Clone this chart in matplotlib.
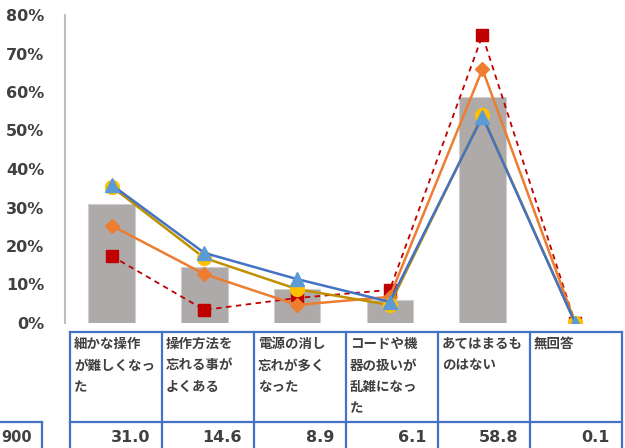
import matplotlib
matplotlib.use('Agg')
import matplotlib.pyplot as plt
from matplotlib.ticker import FuncFormatter

# categories and values
cats = ['細かな操作\nが難しくなっ\nた', '操作方法を\n忘れる事が\nよくある',
        '電源の消し\n忘れが多く\nなった', 'コードや機\n器の扱いが\n乱雑になっ\nた',
        'あてはまるも\nのはない', '無回答']
total = [31.0, 14.6, 8.9, 6.1, 58.8, 0.1]
s_blue = [35.9, 18.2, 11.4, 5.5, 53.6, 0.0]
s_yellow = [35.4, 16.9, 8.8, 4.7, 53.9, 0.0]
s_orange = [25.3, 12.7, 4.7, 6.8, 65.9, 0.0]
s_red = [17.4, 3.4, 6.5, 8.6, 74.7, 0.0]
n_label = '900'

W, H = 625, 448
fig = plt.figure(figsize=(W / 100, H / 100), dpi=100)
ax = fig.add_axes([65.3 / W, 125 / H, 556.2 / W, 308 / H])

x = list(range(len(cats)))
ax.bar(x, total, width=0.5, color='#AEAAAA', edgecolor='#D0CECE', linewidth=0.8, zorder=1)
ax.plot(x, s_red, color='#C00000', linestyle=(0, (3, 2.5)), linewidth=1.3,
        marker='s', markersize=9, markerfacecolor='#C00000', markeredgecolor='#C00000', zorder=2)
ax.plot(x, s_orange, color='#ED7D31', linewidth=1.8,
        marker='D', markersize=7, markerfacecolor='#ED7D31', markeredgecolor='#ED7D31', zorder=3)
ax.plot(x, s_yellow, color='#BF9000', linewidth=1.8,
        marker='o', markersize=10, markerfacecolor='#FFC000', markeredgecolor='#FFC000', zorder=4)
ax.plot(x, s_blue, color='#4472C4', linewidth=1.8,
        marker='^', markersize=10, markerfacecolor='#5B9BD5', markeredgecolor='#5B9BD5', zorder=5)

ax.set_xlim(-0.5, len(cats) - 0.5)
ax.set_ylim(0, 80)
ax.set_yticks(range(0, 81, 10))
ax.yaxis.set_major_formatter(FuncFormatter(lambda v, p: '%d%%' % v))
ax.tick_params(axis='y', length=0, pad=15, labelsize=11.5, labelcolor='#404040')
for lab in ax.get_yticklabels():
    lab.set_fontweight('bold')
ax.set_xticks([])
for s in ['top', 'right', 'bottom']:
    ax.spines[s].set_visible(False)
ax.spines['left'].set_color('#BFBFBF')
ax.spines['left'].set_linewidth(1.5)

# data table under the chart (pixel layout)
tab = fig.add_axes([0, 0, 1, 1], zorder=-1)
tab.set_xlim(0, W)
tab.set_ylim(H, 0)
tab.axis('off')
bc = '#4472C4'
left, colw = 70, 92
top, mid, bot = 332, 422, 452
right = left + colw * len(cats)
tab.plot([left, right], [top, top], color=bc, lw=1.6)
tab.plot([left, right], [mid, mid], color=bc, lw=1.6)
for i in range(len(cats) + 1):
    xc = left + colw * i
    tab.plot([xc, xc], [top, bot], color=bc, lw=1.6)
for i, c in enumerate(cats):
    tab.text(left + colw * i + 4, top + 5, c, ha='left', va='top', fontsize=9.7,
             fontweight='bold', color='#404040', linespacing=1.68,
             family=['Noto Sans CJK JP', 'DejaVu Sans'])
    tab.text(left + colw * (i + 1) - 12, 437, '%.1f' % total[i], ha='right', va='center',
             fontsize=11.5, fontweight='bold', color='#404040')
# leftmost sample-size cell (cut off by the frame)
tab.plot([-5, 42], [mid, mid], color=bc, lw=1.6)
tab.plot([42, 42], [mid, bot], color=bc, lw=1.6)
tab.text(32, 437, n_label, ha='right', va='center', fontsize=10.5,
         fontweight='bold', color='#404040')

fig.savefig('out.png', dpi=100)
